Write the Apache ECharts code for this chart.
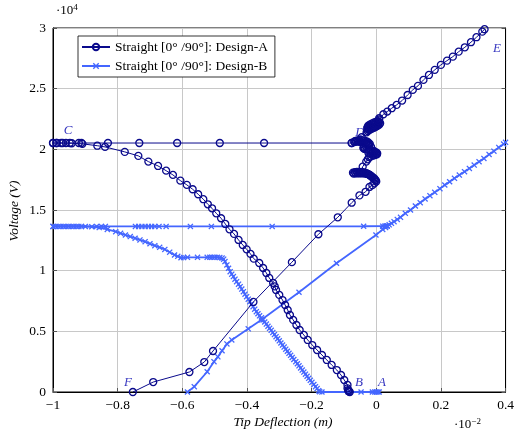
<!DOCTYPE html>
<html>
<head>
<meta charset="utf-8">
<script src="https://cdn.jsdelivr.net/npm/echarts@6/dist/echarts.min.js"></script>
<style>
  html, body { margin: 0; padding: 0; background: #fff; }
  #chart { width: 517px; height: 433px; }
</style>
</head>
<body>
<div id="chart"></div>
<script>
// Tip deflection (×1e-2 m) vs. voltage (×1e4 V)
var xTicks = [-1, -0.8, -0.6, -0.4, -0.2, 0, 0.2, 0.4];
var yTicks = [0, 0.5, 1, 1.5, 2, 2.5, 3];

// Design-A: B -> C (softening branch)
var designA_BC = [
  [-0.082,0.0],[-0.084,0.004],[-0.086,0.009],[-0.087,0.016],[-0.089,0.030],[-0.089,0.058],[-0.099,0.099],[-0.109,0.140],
  [-0.122,0.181],[-0.138,0.223],[-0.153,0.264],[-0.168,0.305],[-0.183,0.346],[-0.198,0.387],
  [-0.212,0.429],[-0.224,0.470],[-0.237,0.511],[-0.247,0.552],[-0.257,0.594],[-0.267,0.635],
  [-0.274,0.676],[-0.282,0.717],[-0.290,0.758],[-0.300,0.800],[-0.310,0.841],[-0.314,0.870],
  [-0.319,0.899],[-0.331,0.940],[-0.340,0.981],[-0.350,1.022],[-0.362,1.063],[-0.379,1.099],
  [-0.389,1.138],[-0.401,1.176],[-0.413,1.212],[-0.426,1.253],[-0.440,1.303],[-0.454,1.341],
  [-0.467,1.385],[-0.480,1.432],[-0.495,1.473],[-0.508,1.514],[-0.521,1.547],[-0.535,1.589],
  [-0.551,1.630],[-0.568,1.671],[-0.586,1.707],[-0.606,1.742],[-0.629,1.789],[-0.650,1.824],
  [-0.675,1.863],[-0.705,1.899],[-0.736,1.946],[-0.778,1.979],[-0.839,2.020],[-0.863,2.030],
  [-0.909,2.045],[-0.942,2.050],[-0.970,2.052],[-0.988,2.052],[-1.0,2.052]
];
// Design-A: C -> D (flat branch)
var designA_CD = [
  [-1.0,2.052],[-0.99,2.052],[-0.975,2.052],[-0.96,2.052],[-0.948,2.052],[-0.92,2.052],
  [-0.912,2.052],[-0.83,2.052],[-0.733,2.052],[-0.616,2.052],[-0.484,2.052],[-0.347,2.052],
  [-0.076,2.052]
];
// Design-A: D -> E (stiffening branch)
var designA_DE = [
  [-0.076,2.052],[-0.067,2.065],[-0.045,2.100],[-0.030,2.140],
  [-0.026,2.150],[-0.022,2.158],[-0.018,2.166],[-0.014,2.172],[-0.010,2.176],[-0.006,2.180],
  [-0.002,2.186],[0.002,2.192],[0.006,2.198],[0.010,2.206],[0.012,2.216],[0.008,2.224],
  [0.004,2.228],[-0.002,2.226],[-0.008,2.220],[-0.014,2.212],[-0.020,2.204],[-0.024,2.196],
  [-0.026,2.186],[-0.028,2.176],[-0.026,2.166],[-0.020,2.172],[-0.014,2.186],[-0.008,2.200],
  [-0.002,2.210],[0.004,2.218],[0.006,2.232],[0.009,2.245],[0.009,2.256],
  [0.022,2.289],[0.034,2.311],[0.048,2.339],[0.063,2.366],[0.080,2.402],[0.097,2.448],
  [0.113,2.490],[0.129,2.523],[0.146,2.572],[0.163,2.613],[0.181,2.655],[0.200,2.696],
  [0.219,2.731],[0.237,2.764],[0.255,2.805],[0.274,2.841],[0.293,2.883],[0.310,2.924],
  [0.328,2.970],[0.335,2.990]
];
// Design-A: F -> D (snap branch, with the jump clusters)
var designA_FD = [
  [-0.753,0.0],[-0.690,0.082],[-0.578,0.165],[-0.532,0.247],[-0.505,0.338],[-0.380,0.742],
  [-0.261,1.070],[-0.179,1.300],[-0.119,1.440],[-0.076,1.560],[-0.052,1.620],[-0.033,1.650],
  [-0.021,1.690],
  [-0.012,1.705],[-0.006,1.720],[0.000,1.735],[-0.004,1.750],[-0.010,1.765],[-0.016,1.778],
  [-0.022,1.790],[-0.028,1.797],[-0.034,1.800],[-0.040,1.802],[-0.046,1.803],[-0.052,1.803],
  [-0.058,1.803],[-0.064,1.802],[-0.070,1.800],[-0.072,1.808],[-0.066,1.812],[-0.060,1.814],
  [-0.054,1.814],[-0.048,1.812],[-0.042,1.810],[-0.036,1.808],[-0.030,1.804],[-0.024,1.796],
  [-0.018,1.784],[-0.012,1.772],[-0.006,1.760],[-0.002,1.745],[-0.020,1.790],[-0.045,1.815],
  [-0.042,1.857],[-0.031,1.899],[-0.026,1.918],
  [-0.022,1.935],[-0.016,1.942],[-0.010,1.948],[-0.004,1.952],[0.002,1.958],[0.003,1.966],
  [0.000,1.975],[-0.006,1.982],[-0.012,1.986],[-0.018,1.990],[-0.024,1.994],[-0.030,1.998],
  [-0.036,2.003],[-0.040,2.010],[-0.038,2.018],[-0.032,2.024],[-0.026,2.030],[-0.022,2.036],
  [-0.026,2.042],[-0.032,2.048],[-0.038,2.054],[-0.044,2.058],[-0.050,2.062],[-0.056,2.064],
  [-0.062,2.064],[-0.068,2.060],[-0.064,2.070],[-0.058,2.074],[-0.052,2.076],[-0.046,2.076],
  [-0.040,2.074],[-0.034,2.070],[-0.028,2.064],[-0.024,2.055],[-0.020,2.045],[-0.016,2.020],
  [-0.010,1.990],[-0.004,1.975],[0.000,1.962],[-0.008,1.958],[-0.016,1.962],[-0.024,1.970]
];

// Design-B: A -> C' (softening branch)
var designB_AC = [
  [0.009,0.0],[0.005,0.0],[0.0,0.0],[-0.005,0.0],[-0.012,0.0],[-0.047,0.0],[-0.087,0.0],
  [-0.168,0.0],[-0.175,0.003],[-0.178,0.011],[-0.183,0.028],[-0.188,0.044],[-0.193,0.062],
  [-0.199,0.080],[-0.204,0.096],[-0.209,0.113],[-0.214,0.130],[-0.219,0.147],[-0.224,0.164],
  [-0.229,0.181],[-0.234,0.198],[-0.239,0.216],[-0.244,0.233],[-0.249,0.250],[-0.255,0.268],
  [-0.260,0.285],[-0.265,0.302],[-0.270,0.319],[-0.275,0.336],[-0.280,0.353],[-0.285,0.370],
  [-0.290,0.387],[-0.295,0.404],[-0.300,0.422],[-0.305,0.439],[-0.310,0.456],[-0.315,0.473],
  [-0.320,0.490],[-0.325,0.508],[-0.330,0.525],[-0.335,0.542],[-0.340,0.560],[-0.345,0.577],
  [-0.350,0.594],[-0.355,0.611],[-0.361,0.628],[-0.366,0.645],[-0.371,0.662],[-0.376,0.683],
  [-0.381,0.703],[-0.386,0.724],[-0.391,0.744],[-0.396,0.765],[-0.401,0.786],[-0.406,0.806],
  [-0.411,0.827],[-0.416,0.848],[-0.421,0.868],[-0.426,0.889],[-0.432,0.909],[-0.437,0.930],
  [-0.442,0.951],[-0.447,0.971],[-0.452,0.992],[-0.457,1.020],[-0.462,1.047],[-0.468,1.075],
  [-0.472,1.095],[-0.477,1.104],[-0.484,1.108],[-0.492,1.110],[-0.500,1.110],[-0.508,1.110],
  [-0.515,1.110],[-0.523,1.110],[-0.553,1.110],[-0.584,1.110],[-0.596,1.108],[-0.604,1.107],
  [-0.614,1.118],[-0.624,1.129],[-0.639,1.152],[-0.654,1.175],[-0.670,1.192],[-0.685,1.206],
  [-0.700,1.222],[-0.715,1.239],[-0.731,1.253],[-0.746,1.267],[-0.761,1.281],[-0.776,1.294],
  [-0.791,1.308],[-0.806,1.321],[-0.832,1.340],[-0.857,1.355],[-0.880,1.362],[-0.900,1.364],
  [-1.0,1.365]
];
// Design-B: C' -> junction -> right edge
var designB_CE = [
  [-1.0,1.365],[-0.992,1.365],[-0.984,1.365],[-0.976,1.365],[-0.968,1.365],[-0.96,1.365],
  [-0.952,1.365],[-0.944,1.365],[-0.936,1.365],[-0.928,1.365],[-0.92,1.365],[-0.912,1.365],
  [-0.865,1.365],[-0.85,1.365],[-0.838,1.365],[-0.745,1.365],[-0.735,1.365],[-0.725,1.365],
  [-0.715,1.365],[-0.705,1.365],[-0.695,1.365],[-0.685,1.365],[-0.672,1.365],[-0.650,1.365],
  [-0.575,1.365],[-0.510,1.365],[-0.322,1.365],[-0.039,1.366],[0.020,1.367],[0.026,1.367],
  [0.030,1.368],[0.034,1.369],[0.040,1.378],[0.047,1.390],[0.055,1.404],[0.065,1.422],
  [0.075,1.440],[0.090,1.473],[0.106,1.500],[0.121,1.533],[0.136,1.560],[0.151,1.591],
  [0.166,1.618],[0.181,1.646],[0.197,1.676],[0.212,1.706],[0.227,1.733],[0.242,1.761],
  [0.257,1.788],[0.273,1.816],[0.288,1.843],[0.303,1.870],[0.318,1.898],[0.333,1.925],
  [0.349,1.958],[0.364,1.985],[0.379,2.016],[0.394,2.043],[0.400,2.058]
];
// Design-B: lower branch -> junction
var designB_FJ = [
  [-0.584,0.0],[-0.563,0.044],[-0.523,0.167],[-0.502,0.250],[-0.490,0.290],[-0.477,0.340],
  [-0.462,0.396],[-0.447,0.429],[-0.396,0.521],[-0.356,0.594],[-0.239,0.822],[-0.123,1.061],
  [-0.001,1.294],[0.020,1.340],[0.029,1.355],[0.034,1.369]
];

var NAVY = '#0a0a8c';
var BLUE = '#4466ff';
var LABEL = '#3838c0';
var SERIF = '"Liberation Serif", "DejaVu Serif", serif';
var NAME_A = 'Straight [0\u00b0 /90\u00b0]: Design-A';
var NAME_B = 'Straight [0\u00b0 /90\u00b0]: Design-B';

// small bold cross marker for Design-B
var CROSS = 'path://M0,1.5 L1.5,0 L5,3.5 L8.5,0 L10,1.5 L6.5,5 L10,8.5 L8.5,10 L5,6.5 L1.5,10 L0,8.5 L3.5,5 Z';

function fmt(v) {
  var r = Math.round(v * 10) / 10;
  var s = String(Math.abs(r));
  return (r < 0 ? '\u2212' : '') + s;
}

function aSeries(data) {
  return {
    name: NAME_A, type: 'line', data: data,
    symbol: 'circle', symbolSize: 7, showAllSymbol: true, clip: true,
    lineStyle: { color: NAVY, width: 1 },
    itemStyle: { color: 'rgba(255,255,255,0)', borderColor: NAVY, borderWidth: 1.3 },
    emphasis: { disabled: true }, z: 3
  };
}
function bSeries(data) {
  return {
    name: NAME_B, type: 'line', data: data,
    symbol: CROSS, symbolSize: 6, showAllSymbol: true, clip: true,
    lineStyle: { color: BLUE, width: 1.8 },
    itemStyle: { color: BLUE },
    emphasis: { disabled: true }, z: 2
  };
}

function letter(t, x, y) {
  return { type: 'text', x: x, y: y, style: { text: t, fontFamily: SERIF, fontStyle: 'italic', fontSize: 13, fill: LABEL, align: 'center', verticalAlign: 'middle' } };
}

var chart = echarts.init(document.getElementById('chart'), null, { renderer: 'canvas' });
chart.setOption({
  animation: false,
  backgroundColor: '#fff',
  grid: { left: 53, right: 4, top: 28, bottom: 41, show: true, borderColor: '#000', borderWidth: 1, backgroundColor: 'transparent' },
  legend: {
    left: 78, top: 36, orient: 'vertical', itemWidth: 28, itemHeight: 8, itemGap: 5,
    padding: [4, 7, 4, 3], borderColor: '#000', borderWidth: 0.8, backgroundColor: '#fff',
    textStyle: { fontFamily: SERIF, fontSize: 13.5, color: '#000' },
    data: [NAME_A, NAME_B]
  },
  xAxis: [{
    type: 'value', min: -1, max: 0.4, interval: 0.2, position: 'bottom',
    axisLine: { show: true, onZero: false, lineStyle: { color: '#000' } },
    axisTick: { show: true, inside: true, length: 4, lineStyle: { color: '#555' } },
    axisLabel: { formatter: fmt, fontFamily: SERIF, fontSize: 13.5, color: '#000', margin: 6 },
    splitLine: { show: true, lineStyle: { color: '#c8c8c8', width: 1 } }
  }],
  yAxis: [{
    type: 'value', min: 0, max: 3, interval: 0.5, position: 'left',
    axisLine: { show: true, onZero: false, lineStyle: { color: '#000' } },
    axisTick: { show: true, inside: true, length: 4, lineStyle: { color: '#555' } },
    axisLabel: { formatter: fmt, fontFamily: SERIF, fontSize: 13.5, color: '#000', margin: 7 },
    splitLine: { show: true, lineStyle: { color: '#c8c8c8', width: 1 } }
  }, {
    type: 'value', min: 0, max: 3, interval: 0.5, position: 'right',
    axisLine: { show: true, onZero: false, lineStyle: { color: '#000' } },
    axisTick: { show: true, inside: true, length: 4, lineStyle: { color: '#555' } },
    axisLabel: { show: false }, splitLine: { show: false }
  }],
  series: [
    bSeries(designB_AC), bSeries(designB_CE), bSeries(designB_FJ),
    aSeries(designA_BC), aSeries(designA_CD), aSeries(designA_DE), aSeries(designA_FD)
  ],
  graphic: [
    { type: 'text', left: 56, top: 3, style: { text: '{a|\u00b710}{b|4}', rich: { a: { fontFamily: SERIF, fontSize: 13, fill: '#000' }, b: { fontFamily: SERIF, fontSize: 9, fill: '#000', padding: [0, 0, 7, 0] } } } },
    { type: 'text', left: 454, top: 417, style: { text: '{a|\u00b710}{b|\u22122}', rich: { a: { fontFamily: SERIF, fontSize: 13, fill: '#000' }, b: { fontFamily: SERIF, fontSize: 9, fill: '#000', padding: [0, 0, 7, 0] } } } },
    { type: 'text', x: 14, y: 211, rotation: Math.PI / 2, style: { text: 'Voltage (V)', fontFamily: SERIF, fontStyle: 'italic', fontSize: 13.5, fill: '#000', align: 'center', verticalAlign: 'middle' } },
    { type: 'text', x: 283, y: 422, style: { text: 'Tip Deflection (m)', fontFamily: SERIF, fontStyle: 'italic', fontSize: 13.5, fill: '#000', align: 'center', verticalAlign: 'middle' } },
    letter('C', 68, 131), letter('D', 360, 133), letter('E', 497, 49),
    letter('F', 128, 383), letter('B', 359, 383), letter('A', 382, 383)
  ]
});
</script>
</body>
</html>
